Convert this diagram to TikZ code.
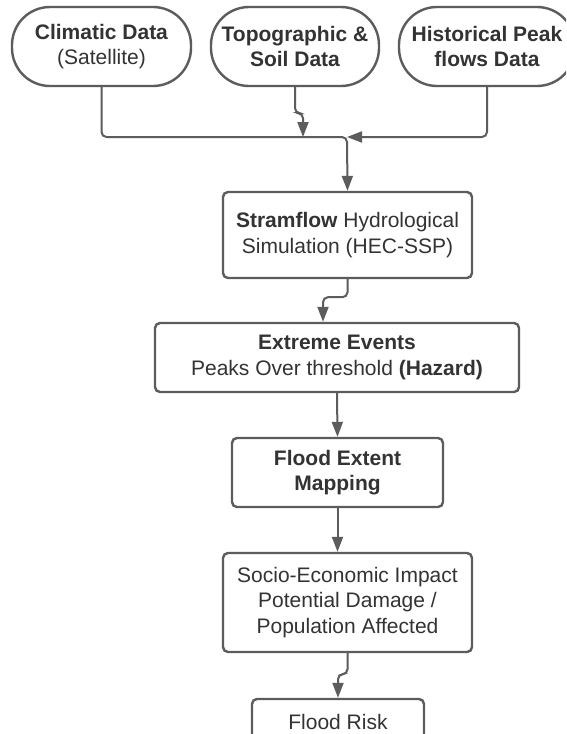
\documentclass[tikz,border=0pt]{standalone}
\usepackage{fontspec}
\setmainfont{Liberation Sans}
\usetikzlibrary{arrows.meta,calc}
\definecolor{edgegray}{HTML}{5C5C5C}
\definecolor{txtgray}{HTML}{333333}
\tikzset{
  base/.style={draw=edgegray, line width=2.4pt, text=txtgray, align=center,
    inner sep=0pt, font=\fontsize{21}{25.5}\selectfont},
  source/.style={base, rounded corners=38pt, minimum height=79pt},
  stepbox/.style={base, rounded corners=5pt},
  link/.style={draw=edgegray, line width=2pt, rounded corners=5pt},
  arr/.style={link, -{Triangle[length=15pt,width=11pt]}},
}
\begin{document}
\begin{tikzpicture}[x=1pt,y=-1pt]
\useasboundingbox (0,0) rectangle (566,734);
\clip (0,0) rectangle (566,734);
\fill[white] (0,0) rectangle (566,734);

% data sources
\node[source, minimum width=179pt] (clim) at (101.5,46.5) {\textbf{Climatic Data}\\(Satellite)};
\node[source, minimum width=168pt] (topo) at (295,46.5) {\textbf{Topographic \&}\\\textbf{Soil Data}};
\node[source, minimum width=176pt] (hist) at (487,46.5) {\textbf{Historical Peak}\\\textbf{flows Data}};

% processing chain
\node[stepbox, minimum width=249pt, minimum height=86pt] (stram) at (347.5,235) {\textbf{Stramflow} Hydrological\\Simulation (HEC-SSP)};
\node[stepbox, minimum width=364pt, minimum height=69pt] (ext) at (337,357.5) {\textbf{Extreme Events}\\Peaks Over threshold \textbf{(Hazard)}};
\node[stepbox, minimum width=211pt, minimum height=69pt] (fext) at (337.5,472.5) {\textbf{Flood Extent}\\\textbf{Mapping}};
\node[stepbox, minimum width=249pt, minimum height=99pt] (socio) at (347.5,602.5) {Socio-Economic Impact\\Potential Damage /\\Population Affected};
\node[stepbox, minimum width=172pt, minimum height=46pt] (risk) at (338,722) {Flood Risk};

% merge of the three sources
\coordinate (m) at (347,137);
\draw[arr] (clim.south) |- (m) -- (stram.north);
\draw[arr] (topo.south) -- ++(0,26) -| ([xshift=8pt]topo.south |- m);
\draw[arr] (hist.south) |- (m);

% chain connectors
\draw[arr] (stram.south) -- ++(0,18) -| ([xshift=-14pt]ext.north);
\draw[arr] (ext.south) -- (fext.north);
\draw[arr] (fext.south) -- ([xshift=-10pt]socio.north);
\draw[arr] (socio.south) -- ++(0,21) -| (risk.north);
\end{tikzpicture}
\end{document}
